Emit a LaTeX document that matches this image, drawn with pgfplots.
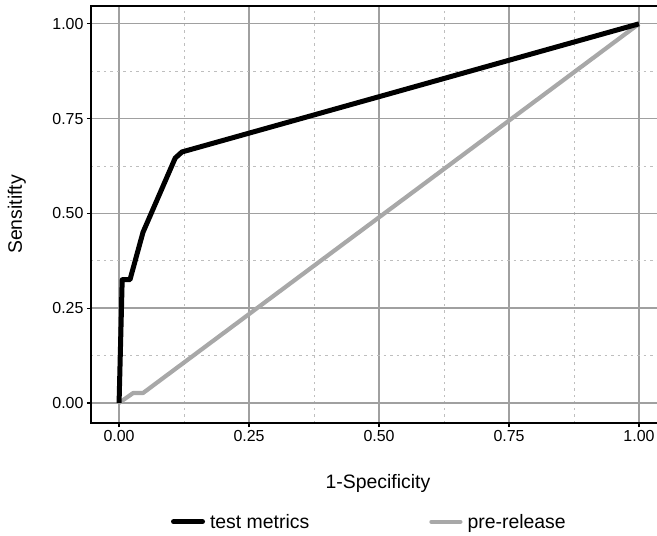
\documentclass[border=0pt]{standalone}
\usepackage{fontspec}
\setmainfont{Liberation Sans}
\usepackage{pgfplots}
\pgfplotsset{compat=1.18}
\definecolor{relgray}{RGB}{168,168,168}
\definecolor{gridmaj}{RGB}{160,160,160}
\definecolor{gridmin}{RGB}{190,190,190}

\begin{document}
\begin{tikzpicture}
% page = 657x536 bp; the panel's right edge lies just beyond it, as in the reference
\useasboundingbox (-91bp,-113bp) rectangle (566bp,423bp);
\begin{axis}[
  at={(0,0)}, anchor=south west,
  scale only axis,
  width=574bp, height=417bp,
  xmin=-0.054, xmax=1.05, ymin=-0.053, ymax=1.047,
  axis line style={black, line width=1.3bp},
  xtick pos=bottom, ytick pos=left,
  xtick={0,0.25,0.5,0.75,1}, ytick={0,0.25,0.5,0.75,1},
  minor tick num=1, minor tick length=0bp,
  major tick length=4bp, tick align=outside,
  tick style={black, line width=1.2bp},
  grid=both,
  major grid style={gridmaj, line width=1.3bp},
  minor grid style={gridmin, line width=0.9bp, dash pattern=on 2.5bp off 4bp},
  tick label style={font=\fontsize{16}{16}\selectfont,
    /pgf/number format/fixed, /pgf/number format/fixed zerofill,
    /pgf/number format/precision=2},
  /pgf/number format/assume math mode=true,
  xlabel={1-Specificity}, ylabel={Sensitifty},
  label style={font=\fontsize{19.5}{20}\selectfont},
  xlabel style={at={(axis description cs:0.5,-0.144)}, anchor=center},
  ylabel style={at={(axis description cs:-0.129,0.5)}, anchor=center},
  legend style={at={(0.485,-0.237)}, anchor=center, draw=none, fill=none,
    legend columns=2, font=\fontsize{19.5}{20}\selectfont,
    /tikz/every even column/.append style={column sep=118bp},
    /tikz/every odd column/.append style={column sep=3bp},
    cells={anchor=west}},
  legend image code/.code={\draw[#1, line cap=round] (0bp,0bp) -- (29bp,0bp);},
]
\addlegendimage{black, line width=5bp}
\addlegendentry{test metrics}
\addlegendimage{relgray, line width=4.2bp}
\addlegendentry{pre-release}
\addplot[relgray, line width=4.2bp, line join=round, forget plot] coordinates {
  (0,0) (0.027,0.026) (0.046,0.026) (1,1)
};
\addplot[black, line width=5bp, line join=round, forget plot] coordinates {
  (0,0) (0.006,0.325) (0.021,0.325) (0.046,0.45) (0.108,0.646) (0.121,0.662) (1,1)
};
\end{axis}
\end{tikzpicture}
\end{document}
